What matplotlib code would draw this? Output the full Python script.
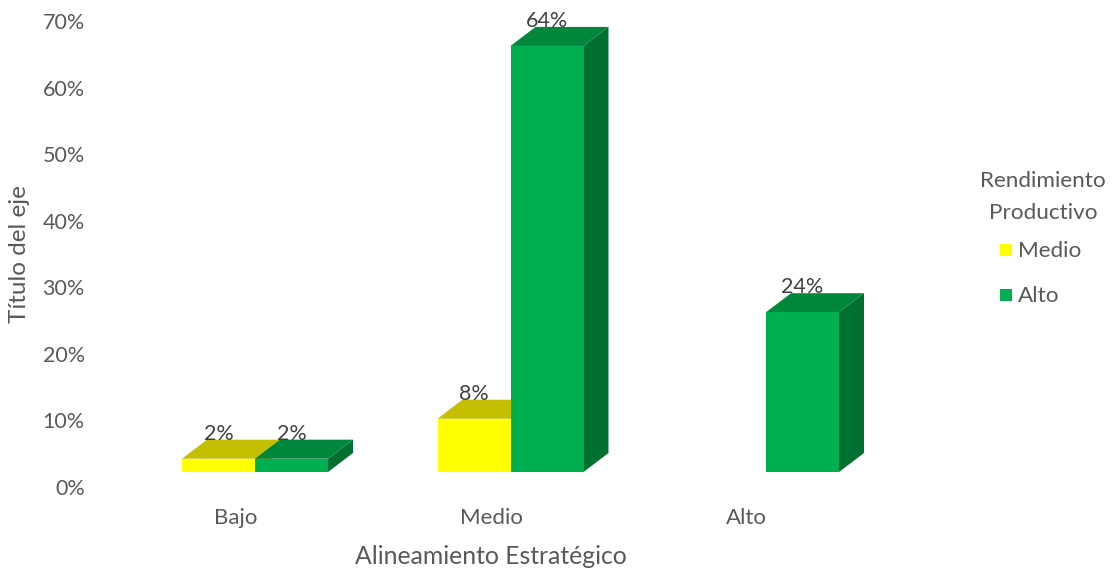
import matplotlib
matplotlib.use("Agg")
import matplotlib.pyplot as plt
from matplotlib.patches import Polygon, Rectangle

# Data
categories = ["Bajo", "Medio", "Alto"]
series_names = ["Medio", "Alto"]
medio_vals = [0.02, 0.08, 0.00]
alto_vals = [0.02, 0.64, 0.24]
y_ticks = [0.0, 0.1, 0.2, 0.3, 0.4, 0.5, 0.6, 0.7]
tick_labels = ["0%", "10%", "20%", "30%", "40%", "50%", "60%", "70%"]

FONT = "Lato"
TXT = "#595959"
LBL = "#404040"

# face colours per series: (front, top, side)
faces = {
    "Medio": ("#FFFF00", "#C4BF00", "#A6A300"),
    "Alto": ("#00B050", "#00873C", "#007030"),
}

W, H, DPI = 1115, 570, 100
fig = plt.figure(figsize=(W / DPI, H / DPI), dpi=DPI)

ax_l, ax_r, ax_b, ax_t = 100, 930, 83, 549
ax = fig.add_axes([ax_l / W, ax_b / H, (ax_r - ax_l) / W, (ax_t - ax_b) / H])
px_per_x = 255.5
center0 = 255
ax.set_xlim((ax_l - center0) / px_per_x, (ax_r - center0) / px_per_x)
ax.set_ylim(0, 0.7)
for s in ax.spines.values():
    s.set_visible(False)
ax.set_yticks(y_ticks)
ax.set_yticklabels(tick_labels, fontfamily=FONT, fontsize=15.5, color=TXT)
ax.tick_params(axis="y", length=0, pad=11)
ax.set_xticks([i - 0.075 for i in range(len(categories))])
ax.set_xticklabels(categories, fontfamily=FONT, fontsize=16, color=TXT)
ax.tick_params(axis="x", length=0, pad=15)

fig.canvas.draw()
# convert pixel depths of the 3-D effect into data units
p0 = ax.transData.transform((0, 0))
p1 = ax.transData.transform((1, 1))
ux = p1[0] - p0[0]
uy = p1[1] - p0[1]
depth_x = 25 / ux
depth_y = 19 / uy
floor = 15 / uy
bar_w = 73 / ux


def draw_bar(x0, v, cols):
    front, top, side = cols
    yb, yt = floor, floor + v
    x1 = x0 + bar_w
    ax.add_patch(Polygon([(x1, yb), (x1 + depth_x, yb + depth_y),
                          (x1 + depth_x, yt + depth_y), (x1, yt)],
                         closed=True, fc=side, ec="none", zorder=2))
    ax.add_patch(Polygon([(x0, yt), (x0 + depth_x, yt + depth_y),
                          (x1 + depth_x, yt + depth_y), (x1, yt)],
                         closed=True, fc=top, ec="none", zorder=2))
    ax.add_patch(Rectangle((x0, yb), bar_w, v, fc=front, ec="none", zorder=2))
    ax.text(x0 + bar_w / 2, yt + depth_y, f"{round(v * 100):.0f}%",
            ha="center", va="baseline", fontfamily=FONT, fontsize=15.5,
            color=LBL, zorder=3)


for i in range(len(categories)):
    for k, (name, vals) in enumerate(zip(series_names, [medio_vals, alto_vals])):
        v = vals[i]
        if v <= 0:
            continue
        x0 = i - bar_w + k * bar_w
        draw_bar(x0, v, faces[name])

# axis titles
fig.text(491 / W, 1 - 556 / H, "Alineamiento Estratégico", ha="center",
         va="center", fontfamily=FONT, fontsize=17.8, color=TXT)
fig.text(20 / W, 1 - 254 / H, "Título del eje", ha="center", va="center",
         rotation=90, fontfamily=FONT, fontsize=17.5, color=TXT)

# legend
fig.text(1043 / W, 1 - 181 / H, "Rendimiento", ha="center", va="center",
         fontfamily=FONT, fontsize=16.2, color=TXT)
fig.text(1043 / W, 1 - 213 / H, "Productivo", ha="center", va="center",
         fontfamily=FONT, fontsize=16.2, color=TXT)
for name, yc in zip(series_names, [250, 295]):
    fig.patches.append(Rectangle((1000 / W, 1 - (yc + 6) / H), 12 / W, 12 / H,
                                 transform=fig.transFigure, fc=faces[name][0],
                                 ec="none"))
    fig.text(1018 / W, 1 - (yc + 1) / H, name, ha="left", va="center",
             fontfamily=FONT, fontsize=16.2, color=TXT)

fig.savefig("out.png", dpi=DPI)
